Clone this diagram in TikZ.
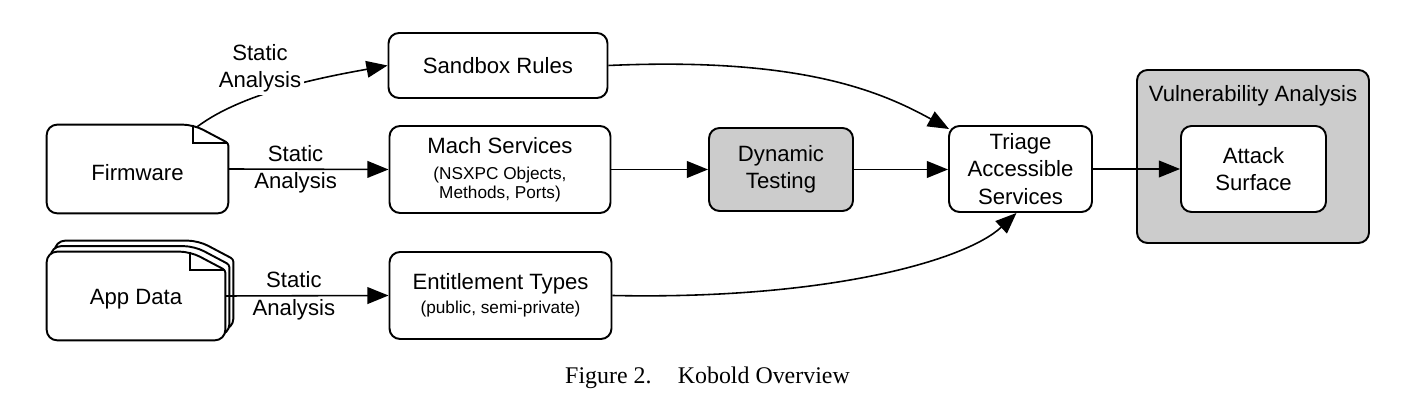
\documentclass[tikz,border=0pt]{standalone}
\usepackage{fontspec}
\setmainfont{Liberation Sans}
\newfontfamily\capfont{Liberation Serif}
\usepackage{tikz}
\usetikzlibrary{calc,arrows.meta}

\newcommand{\bigtxt}{\fontsize{12.6}{15.6}\selectfont}
\newcommand{\smalltxt}{\fontsize{9.8}{11}\selectfont}

\begin{document}
\begin{tikzpicture}[
    box/.style={draw, line width=1.1pt, rounded corners=6pt, fill=white, align=center,
      inner sep=2pt, font=\bigtxt},
    graybox/.style={box, fill=black!20},
    sheet/.style={draw, line width=1.1pt, fill=white},
    arr/.style={-{Triangle[length=12pt,width=9.5pt]}, line width=0.9pt},
    lbl/.style={align=center, font=\bigtxt, inner sep=1.5pt}]
 \useasboundingbox (0,0) rectangle (28.12,8.12);
    % document outline with folded corner
      \newcommand{\docsheet}[2]{\draw[sheet] ($(#1.west)+(#2)$) [rounded corners=6pt]
          |- ($(#1.north east)+(#2)+(-0.7,0)$) [rounded corners=1.5pt]
          -- ($(#1.north east)+(#2)+(0,-0.37)$) [rounded corners=6pt]
          |- ($(#1.south west)+(#2)$) -- cycle;}
      \newcommand{\docfold}[1]{\draw[line width=1.1pt] ($(#1.north east)+(-0.7,0)$)
          |- ($(#1.north east)+(0,-0.37)$);}
    \coordinate (fwc) at (2.75,4.74);
    \node[minimum width=3.62cm, minimum height=1.76cm, inner sep=0] (fw) at (fwc) {};
    \node[minimum width=3.56cm, minimum height=1.76cm, inner sep=0] (app) at (2.72,2.2) {};
    \docsheet{fw}{0,0} \docfold{fw}
    \foreach \off in {{0.16,0.22},{0.08,0.11},{0,0}} {\docsheet{app}{\off}}
    \docfold{app}
    \node[font=\bigtxt] (fwtext) at ($(fw)+(0,-0.07)$) {Firmware};
    \node[font=\bigtxt] (apptext) at ($(app)+(0,-0.07)$) {App Data};
    % boxes
    \node[box, minimum width=4.38cm, minimum height=1.3cm] (sandbox) at (9.96,6.81) {Sandbox Rules};
    \node[box, minimum width=4.42cm, minimum height=1.74cm] (mach) at (10.0,4.73)
      {Mach Services\\[-1pt]{\smalltxt (NSXPC Objects,}\\[-4.8pt]{\smalltxt Methods, Ports)}};
    \node[box, minimum width=4.44cm, minimum height=1.74cm] (ent) at (10.01,2.21)
      {Entitlement Types\\[-2pt]{\smalltxt (public, semi-private)}};
    \node[graybox, minimum width=2.88cm, minimum height=1.66cm] (dyn) at (15.62,4.73) {Dynamic\\Testing};
    \node[box, minimum width=2.86cm, minimum height=1.72cm] (triage) at (20.41,4.74)
      {Triage\\Accessible\\Services};
    \node[graybox, minimum width=4.64cm, minimum height=3.46cm] (vuln) at (25.06,4.99) {};
    \node[font=\bigtxt] (vulntitle) at ($(vuln.north)+(0,-0.54)$) {Vulnerability Analysis};
    \node[box, minimum width=2.9cm, minimum height=1.72cm] (attack) at (25.07,4.74) {Attack\\Surface};
    % connectors
    \coordinate (fold) at ($(fw.north east)+(-0.62,-0.04)$);
    \draw[arr] (fold) .. controls (4.9,6.3) and (6.6,6.6) .. (sandbox.west);
    \node[lbl, fill=white] (sa1) at (5.2,6.76) {Static\\Analysis};
    \draw[arr] (fw.east) -- node[lbl, pos=0.42] (sa2) {Static\\Analysis} (mach.west);
    \draw[arr] (app.east) -- node[lbl, pos=0.42] (sa3) {Static\\Analysis} (ent.west);
    \draw[arr] (mach.east) -- (dyn.west);
    \draw[arr] (dyn.east) -- (dyn.east -| triage.west);
    \draw[arr] (sandbox.east) .. controls (16,6.98) and (17.6,6.3) .. ($(triage.north west)+(0.02,-0.08)$);
    \draw[arr] (ent.east) .. controls (16.5,2.12) and (19.3,2.9) .. ($(triage.south)+(-0.08,0)$);
    \draw[arr] (triage.east) -- (attack.west);
    % caption
    \node[font=\capfont\fontsize{13.6}{16}\selectfont] (caption) at (14.15,0.56)
      {Figure 2.\hspace{15pt}Kobold Overview};
  \end{tikzpicture}
\end{document}
